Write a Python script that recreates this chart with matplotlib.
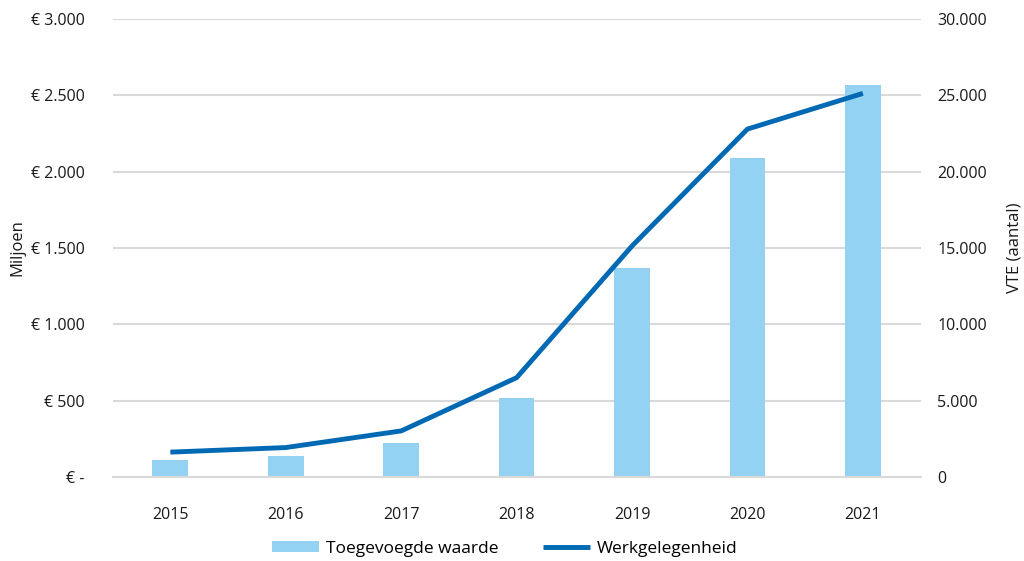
import matplotlib
matplotlib.use('Agg')
import matplotlib.pyplot as plt
from matplotlib.ticker import FuncFormatter

# data
jaren = ['2015', '2016', '2017', '2018', '2019', '2020', '2021']
toegevoegde_waarde = [111, 137, 225, 519, 1371, 2090, 2567]   # miljoen euro
werkgelegenheid = [1620, 1920, 3010, 6500, 15130, 22790, 25130]  # VTE

links_ticks = [0, 500, 1000, 1500, 2000, 2500, 3000]
rechts_ticks = [0, 5000, 10000, 15000, 20000, 25000, 30000]

plt.rcParams['font.family'] = ['Open Sans', 'DejaVu Sans']
tekst_kleur = '#1a1a1a'
grid_kleur = '#d9d9d9'

fig = plt.figure(figsize=(10.24, 5.61), dpi=100)
ax = fig.add_axes([0.110, 0.150, 0.789, 0.816])
ax2 = ax.twinx()

x = list(range(len(jaren)))
staven = ax.bar(x, toegevoegde_waarde, width=0.31, color='#94d2f3', zorder=2,
                label='Toegevoegde waarde')
lijn, = ax2.plot(x, werkgelegenheid, color='#0069b4', linewidth=3.5,
                 solid_capstyle='butt', label='Werkgelegenheid')

ax.set_xlim(-0.5, len(jaren) - 0.5)
ax.set_ylim(0, 3000)
ax2.set_ylim(0, 30000)
ax.set_yticks(links_ticks)
ax2.set_yticks(rechts_ticks)


def euro(v, pos):
    if v == 0:
        return '€ -'
    return '€ ' + f'{int(v):,}'.replace(',', '.')


def aantal(v, pos):
    return f'{int(v):,}'.replace(',', '.')


ax.yaxis.set_major_formatter(FuncFormatter(euro))
ax2.yaxis.set_major_formatter(FuncFormatter(aantal))

ax.set_xticks(x)
ax.set_xticklabels(jaren)

ax.grid(axis='y', color=grid_kleur, linewidth=1.5, zorder=0)
ax.set_axisbelow(True)

for a in (ax, ax2):
    for s in a.spines.values():
        s.set_visible(False)
    a.tick_params(length=0, labelsize=11.5, colors=tekst_kleur)
ax.spines['bottom'].set_visible(True)
ax.spines['bottom'].set_color(grid_kleur)
ax.spines['bottom'].set_linewidth(1.5)
ax.tick_params(axis='y', pad=20)
ax2.tick_params(axis='y', pad=12)
ax.tick_params(axis='x', pad=22)

ax.set_ylabel('Miljoen', fontsize=12, color=tekst_kleur, labelpad=4)
ax2.set_ylabel('VTE (aantal)', fontsize=12, color=tekst_kleur, labelpad=14)

fig.legend([staven, lijn], ['Toegevoegde waarde', 'Werkgelegenheid'],
           loc='center', bbox_to_anchor=(0.493, 12 / 561), ncol=2,
           frameon=False, fontsize=12.5, handlelength=2.7, handleheight=0.6,
           columnspacing=2.6, handletextpad=0.4)

fig.savefig('out.png', dpi=100)
